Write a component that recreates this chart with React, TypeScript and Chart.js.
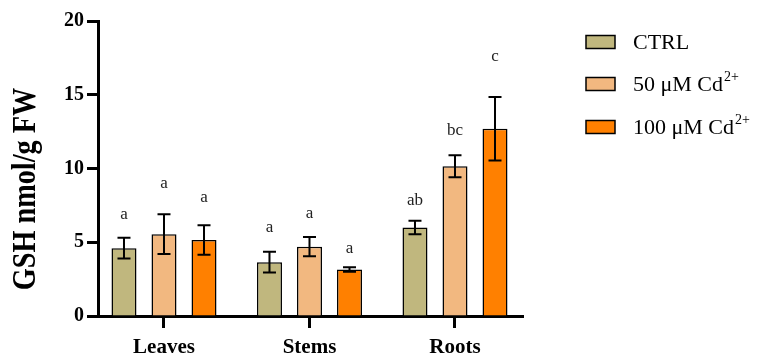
import React, { useEffect, useRef } from "react";
import { Chart, registerables } from "chart.js";

Chart.register(...registerables);

const categories = ["Leaves", "Stems", "Roots"];
const seriesNames = ["CTRL", "50 μM Cd", "100 μM Cd"];
const seriesSup = ["", "2+", "2+"];
const yTitle = "GSH nmol/g FW";
const ctrlValues = [4.6, 3.65, 6.0];
const ctrlErrors = [0.7, 0.7, 0.45];
const cd50Values = [5.55, 4.7, 10.15];
const cd50Errors = [1.35, 0.65, 0.75];
const cd100Values = [5.15, 3.15, 12.7];
const cd100Errors = [1.0, 0.15, 2.15];
const ctrlLetters = ["a", "a", "ab"];
const cd50Letters = ["a", "a", "bc"];
const cd100Letters = ["a", "a", "c"];
const ctrlLetterAt = [6.9, 6.0, 7.8];
const cd50LetterAt = [9.0, 6.95, 12.6];
const cd100LetterAt = [8.0, 4.6, 17.6];
const yTicks = [0, 5, 10, 15, 20];

const colors = ["#C0B77E", "#F2B880", "#FF8000"];
const SERIF = "'Liberation Serif', 'Times New Roman', serif";

const errors = [ctrlErrors, cd50Errors, cd100Errors];
const letters = [ctrlLetters, cd50Letters, cd100Letters];
const letterAt = [ctrlLetterAt, cd50LetterAt, cd100LetterAt];

const overlayPlugin = {
  id: "overlay",
  afterDatasetsDraw(chart: any) {
    const ctx = chart.ctx;
    const yScale = chart.scales.y;
    ctx.save();
    chart.data.datasets.forEach((ds: any, di: number) => {
      const meta = chart.getDatasetMeta(di);
      meta.data.forEach((bar: any, i: number) => {
        const v = ds.data[i];
        const e = errors[di][i];
        const x = bar.x;
        const yTop = yScale.getPixelForValue(v + e);
        const yBot = yScale.getPixelForValue(v - e);
        ctx.strokeStyle = "#000";
        ctx.lineWidth = 2;
        ctx.beginPath();
        ctx.moveTo(x, yTop);
        ctx.lineTo(x, yBot);
        ctx.moveTo(x - 6.5, yTop);
        ctx.lineTo(x + 6.5, yTop);
        ctx.moveTo(x - 6.5, yBot);
        ctx.lineTo(x + 6.5, yBot);
        ctx.stroke();
        ctx.fillStyle = "#222";
        ctx.font = `17px ${SERIF}`;
        ctx.textAlign = "center";
        ctx.textBaseline = "middle";
        ctx.fillText(letters[di][i], x, yScale.getPixelForValue(letterAt[di][i]));
      });
    });
    ctx.restore();
  },
  afterDraw(chart: any) {
    const ctx = chart.ctx;
    ctx.save();
    // y axis title
    ctx.save();
    ctx.translate(35, 189);
    ctx.rotate(-Math.PI / 2);
    ctx.scale(0.856, 1);
    ctx.fillStyle = "#000";
    ctx.font = `bold 33px ${SERIF}`;
    ctx.textAlign = "center";
    ctx.textBaseline = "alphabetic";
    ctx.fillText(yTitle, 0, 0);
    ctx.restore();
    // legend
    const rows = [42, 84, 127];
    seriesNames.forEach((name, i) => {
      const cy = rows[i];
      ctx.fillStyle = colors[i];
      ctx.fillRect(586, cy - 6.5, 29, 13);
      ctx.strokeStyle = "#000";
      ctx.lineWidth = 1.5;
      ctx.strokeRect(586, cy - 6.5, 29, 13);
      ctx.fillStyle = "#000";
      ctx.font = `22px ${SERIF}`;
      ctx.textAlign = "left";
      ctx.textBaseline = "middle";
      ctx.fillText(name, 633, cy + 1);
      if (seriesSup[i]) {
        const w = ctx.measureText(name).width;
        ctx.font = `14px ${SERIF}`;
        ctx.fillText(seriesSup[i], 633 + w + 1, cy - 7);
      }
    });
    ctx.restore();
  },
};

export default function App() {
  const ref = useRef<HTMLCanvasElement>(null);
  useEffect(() => {
    if (!ref.current) return;
    const chart = new Chart(ref.current, {
      type: "bar",
      data: {
        labels: categories,
        datasets: [
          { label: seriesNames[0], data: ctrlValues, backgroundColor: colors[0], borderColor: "#000", borderWidth: 1.5 },
          { label: seriesNames[1], data: cd50Values, backgroundColor: colors[1], borderColor: "#000", borderWidth: 1.5 },
          { label: seriesNames[2], data: cd100Values, backgroundColor: colors[2], borderColor: "#000", borderWidth: 1.5 },
        ],
      },
      options: {
        animation: false,
        responsive: false,
        maintainAspectRatio: false,
        categoryPercentage: 0.825,
        barPercentage: 0.625,
        layout: { padding: { left: 0, right: 235, top: 21, bottom: 0 } },
        plugins: { legend: { display: false }, tooltip: { enabled: false } },
        scales: {
          x: {
            offset: true,
            grid: { drawOnChartArea: false, offset: false, drawTicks: true, tickLength: 12, tickWidth: 3, tickColor: "#000" },
            border: { display: true, width: 3, color: "#000" },
            ticks: { color: "#000", font: { family: SERIF, size: 21, weight: "bold" }, padding: 7, maxRotation: 0 },
            afterFit: (s: any) => { s.height = 38; },
            afterBuildTicks: (s: any) => { s._startValue = -0.4536; s._valueRange = 2.921; },
          },
          y: {
            min: 0,
            max: 20,
            afterBuildTicks: (s: any) => { s.ticks = yTicks.map((v) => ({ value: v })); },
            grid: { drawOnChartArea: false, drawTicks: true, tickLength: 11, tickWidth: 3, tickColor: "#000" },
            border: { display: true, width: 3, color: "#000" },
            ticks: { color: "#000", font: { family: SERIF, size: 20, weight: "bold" }, padding: 3 },
            title: { display: false },
            afterFit: (s: any) => { s.width = 98; },
          },
        },
      } as any,
      plugins: [overlayPlugin],
    });
    return () => chart.destroy();
  }, []);
  return (
    <div style={{ position: "fixed", left: 0, top: 0, width: 758, height: 354, background: "#fff" }}>
      <canvas ref={ref} width={758} height={354} style={{ width: 758, height: 354 }} />
    </div>
  );
}
